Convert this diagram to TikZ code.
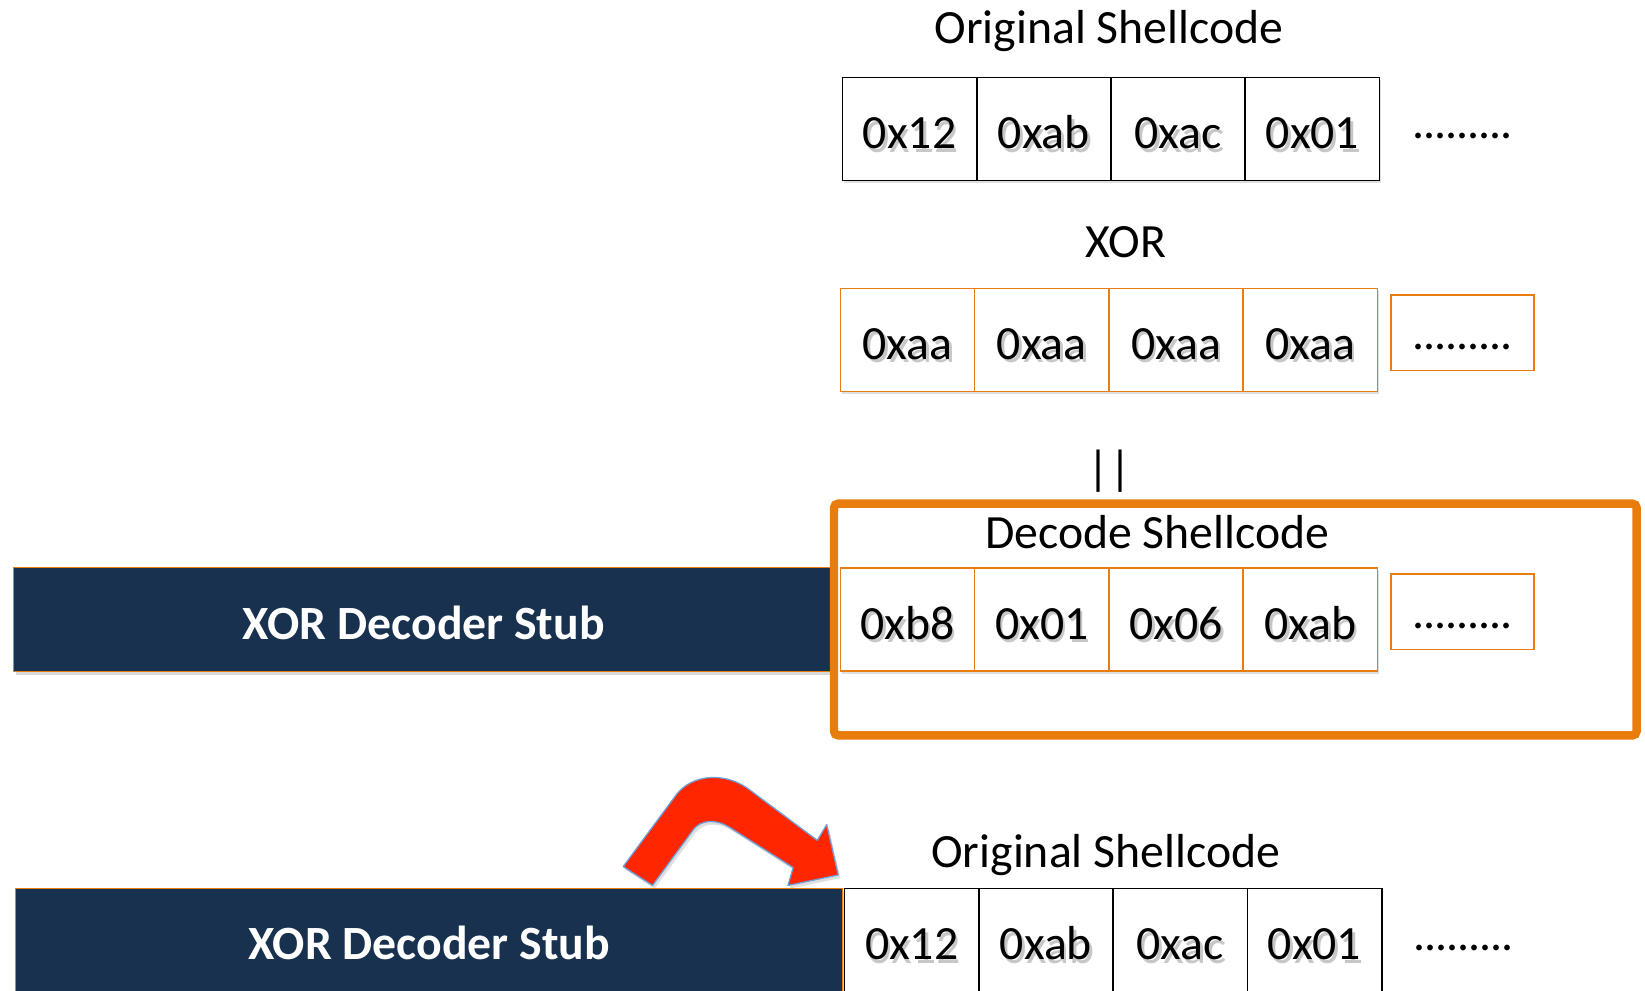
\documentclass[tikz,border=0pt]{standalone}
\usepackage{fontspec}
\setmainfont{Carlito}
\usetikzlibrary{shadows}
\definecolor{navy}{RGB}{23,49,79}
\definecolor{orng}{RGB}{232,125,13}
\definecolor{arrowred}{RGB}{255,38,0}
\definecolor{arrowedge}{RGB}{110,160,215}
\newcommand\shtext[1]{\makebox[0pt][l]{\kern2.5pt\raisebox{-3pt}{\textcolor{black!22}{#1}}}#1}
\begin{document}
\begin{tikzpicture}[x=1pt,y=-1pt,
  font=\fontsize{45.5pt}{50pt}\selectfont,
  cell/.style={draw=black, line width=1.6pt, fill=white, inner sep=0pt,
    minimum width=128pt, minimum height=98pt, text height=38pt, text depth=0pt,
    drop shadow={shadow xshift=1.5pt, shadow yshift=-2.5pt, opacity=0.25}},
  ocell/.style={cell, draw=orng, line width=1.4pt},
  dotsbox/.style={draw=orng, line width=1.4pt, fill=white, inner sep=0pt,
    minimum width=136pt, minimum height=72pt, text height=32pt, text depth=0pt},
  dotstext/.style={anchor=base, inner sep=0pt},
  stub/.style={draw=orng, line width=1pt, fill=navy, text=white,
    font=\fontsize{45.5pt}{50pt}\selectfont\bfseries, inner sep=0pt,
    minimum height=99pt, text height=38pt, text depth=0pt,
    drop shadow={shadow xshift=2pt, shadow yshift=-3pt, opacity=0.3}},
  title/.style={anchor=base, inner sep=0pt},
  bigframe/.style={draw=orng, fill=white, line width=8pt, rounded corners=4pt, inner sep=0pt,
    drop shadow={shadow xshift=2pt, shadow yshift=-3pt, opacity=0.25}}
]
\useasboundingbox (0,0) rectangle (1568,944);

% --- row 1: original shellcode
\node[title] (t1) at (1057,41) {Original Shellcode};
\node[cell] (a1) at (867,123) {\shtext{0x12}};
\node[cell] (a2) at (995,123) {\shtext{0xab}};
\node[cell] (a3) at (1123,123) {\shtext{0xac}};
\node[cell] (a4) at (1251,123) {\shtext{0x01}};
\node[dotstext] (ad) at (1394,132) {\kern-1pt.\kern-1pt.\kern-1pt.\kern-1pt.\kern-1pt.\kern-1pt.\kern-1pt.\kern-1pt.\kern-1pt.\kern-1pt};

% --- row 2: XOR key
\node[title] (xor) at (1073,245) {XOR};
\node[ocell] (b1) at (865,324) {\shtext{0xaa}};
\node[ocell] (b2) at (993,324) {\shtext{0xaa}};
\node[ocell] (b3) at (1121,324) {\shtext{0xaa}};
\node[ocell] (b4) at (1249,324) {\shtext{0xaa}};
\node[dotsbox] (bd) at (1394,317) {\kern-1pt.\kern-1pt.\kern-1pt.\kern-1pt.\kern-1pt.\kern-1pt.\kern-1pt.\kern-1pt.\kern-1pt.\kern-1pt};

\node[inner sep=0pt] (eq) at (1058,449) {||};

% --- row 3: decoded
\node[stub, minimum width=782pt] (stub1) at (404,590.5) {XOR Decoder Stub};
\node[bigframe, minimum width=765pt, minimum height=221pt] (frame) at (1177.5,590.5) {};
\node[ocell] (c1) at (865,590.5) {\shtext{0xb8}};
\node[ocell] (c2) at (993,590.5) {\shtext{0x01}};
\node[ocell] (c3) at (1121,590.5) {\shtext{0x06}};
\node[ocell] (c4) at (1249,590.5) {\shtext{0xab}};
\node[dotsbox] (cd) at (1394,583) {\kern-1pt.\kern-1pt.\kern-1pt.\kern-1pt.\kern-1pt.\kern-1pt.\kern-1pt.\kern-1pt.\kern-1pt.\kern-1pt};
\node[title] (dec) at (1103,523) {Decode Shellcode};

% --- row 4: result
\node[title] (t2) at (1054,827) {Original Shellcode};
\node[stub, minimum width=788pt] (stub2) at (409,896) {XOR Decoder Stub};
\node[cell] (d1) at (869,896) {\shtext{0x12}};
\node[cell] (d2) at (997,896) {\shtext{0xab}};
\node[cell] (d3) at (1125,896) {\shtext{0xac}};
\node[cell] (d4) at (1253,896) {\shtext{0x01}};
\node[dotstext] (dd) at (1395,906) {\kern-1pt.\kern-1pt.\kern-1pt.\kern-1pt.\kern-1pt.\kern-1pt.\kern-1pt.\kern-1pt.\kern-1pt.\kern-1pt};

% --- red curved jump arrow
\filldraw[fill=arrowred, draw=arrowedge, line width=1.2pt, line join=round,
  drop shadow={shadow xshift=2pt, shadow yshift=-3pt, opacity=0.25}]
  (594,826) -- (645,757)
  .. controls (660,738) and (690,736) .. (712,751)
  -- (779,801) -- (788,786) -- (799,834) -- (751,844) -- (756,827)
  -- (696,789)
  .. controls (684,781) and (668,780) .. (660,792)
  -- (622,844) -- cycle;
\end{tikzpicture}
\end{document}
